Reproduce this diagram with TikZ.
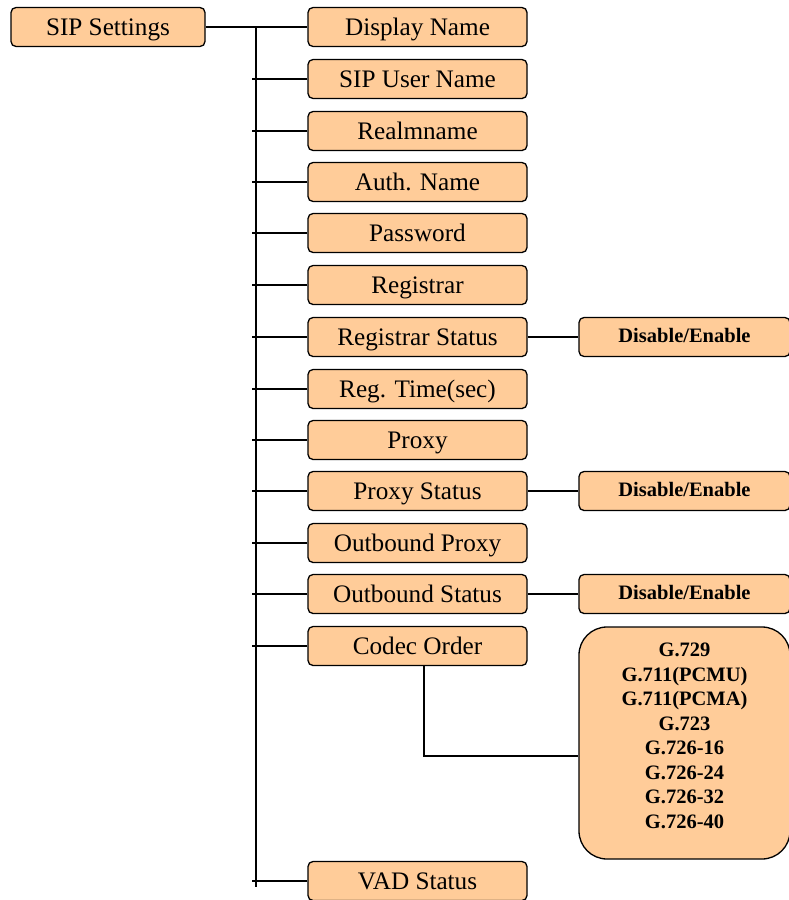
\documentclass[tikz,border=0pt]{standalone}
\usepackage{fontspec}
\setmainfont{Liberation Serif}
\definecolor{peach}{HTML}{FFCC99}
\begin{document}
\begin{tikzpicture}[x=1pt,y=-1pt,
  box/.style={draw=black, fill=peach, line width=1.3pt, rounded corners=5pt,
    minimum height=39pt, inner sep=0pt, text height=19pt, text depth=3pt,
    font=\fontsize{25.2}{28}\selectfont},
  item/.style={box, minimum width=219pt},
  opt/.style={box, minimum width=211pt, text height=16pt, text depth=5pt,
    font=\fontsize{20.5}{24.5}\selectfont\bfseries},
  wire/.style={line width=1.2pt}]
\useasboundingbox (0,0) rectangle (789,900);

\node[box, minimum width=194pt] (sip) at (108,27) {SIP Settings};

\node[item] (dn)  at (417.5,27)  {Display Name};
\node[item] (un)  at (417.5,79)  {SIP User Name};
\node[item] (rm)  at (417.5,131) {Realmname};
\node[item] (an)  at (417.5,182) {Auth. Name};
\node[item] (pw)  at (417.5,233) {Password};
\node[item] (rg)  at (417.5,285) {Registrar};
\node[item] (rs)  at (417.5,337) {Registrar Status};
\node[item] (rt)  at (417.5,389) {Reg. Time(sec)};
\node[item] (px)  at (417.5,440) {Proxy};
\node[item] (ps)  at (417.5,491) {Proxy Status};
\node[item] (op)  at (417.5,543) {Outbound Proxy};
\node[item] (os)  at (417.5,594) {Outbound Status};
\node[item] (co)  at (417.5,646) {Codec Order};
\node[item] (vad) at (417.5,881) {VAD Status};

\node[opt] (rsd) at (684.5,337) {Disable/Enable};
\node[opt] (psd) at (684.5,491) {Disable/Enable};
\node[opt] (osd) at (684.5,594) {Disable/Enable};

\node[draw=black, fill=peach, line width=1.3pt, minimum width=211pt,
  minimum height=232pt, rounded corners=28pt] (codec) at (684.5,743) {};
\node[font=\fontsize{20.5}{24.5}\selectfont\bfseries, align=center, inner sep=0pt]
  (codeclist) at ([yshift=7pt]codec.center)
  {G.729\\G.711(PCMU)\\G.711(PCMA)\\G.723\\G.726-16\\G.726-24\\G.726-32\\G.726-40};

% trunk
\coordinate (ttop) at (256,27);
\coordinate (tbot) at (256,887);
\draw[wire] (sip.east) -- (dn.west);
\draw[wire] (ttop) -- (tbot);
\foreach \n in {un,rm,an,pw,rg,rs,rt,px,ps,op,os,co,vad}
  \draw[wire] (\n.west) -- ++(-55,0);

\draw[wire] (rs.east) -- (rsd.west);
\draw[wire] (ps.east) -- (psd.west);
\draw[wire] (os.east) -- (osd.west);
\coordinate (cdrop) at ([xshift=6.5pt]co.south);
\draw[wire] (cdrop) |- ([yshift=-13pt]codec.west);
\end{tikzpicture}
\end{document}
